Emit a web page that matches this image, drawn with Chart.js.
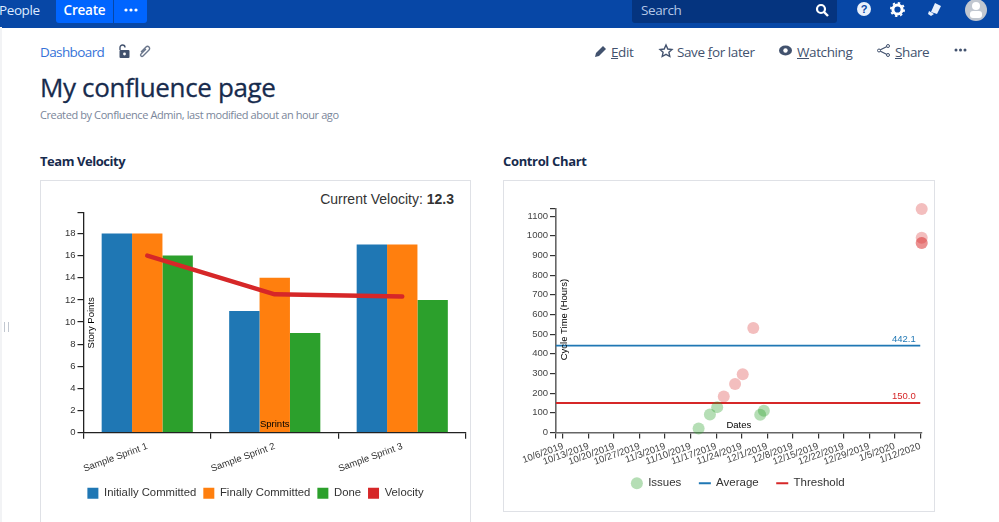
<!DOCTYPE html>
<html><head><meta charset="utf-8">
<script src="https://cdn.jsdelivr.net/npm/chart.js@4"></script>
<style>
html,body{margin:0;padding:0;background:#fff;overflow:hidden}
body{width:999px;height:522px;position:relative;font-family:"Open Sans","Noto Sans",sans-serif;color:#172b4d}
.a{position:absolute;white-space:nowrap}
.nav{left:0;top:0;width:999px;height:27.5px;background:#0747a6}
.rail{left:0;top:27px;width:2px;height:495px;background:#f2f3f5}
.act{top:42px;font-size:13.5px;letter-spacing:-0.4px;line-height:20px;color:#42526e}
.panel{border:1.5px solid #dfe1e6;box-sizing:border-box}
svg{position:absolute;overflow:visible}
canvas{position:absolute}
</style></head><body>
<div class="a nav"></div>
<div class="a rail"></div>
<div class="a" style="left:-1px;top:0;height:20px;line-height:20px;font-size:13.5px;letter-spacing:-0.4px;color:#deebff">People</div>
<div class="a" style="left:56px;top:0;width:57px;height:23px;line-height:20px;background:#0065ff;border-radius:0 0 0 3px;color:#fff;font-size:13.5px;letter-spacing:-0.2px;font-weight:600;text-align:center">Create</div>
<div class="a" style="left:114px;top:0;width:33px;height:23px;background:#0065ff;border-radius:0 0 3px 0"></div>
<svg style="left:124px;top:8px" width="14" height="4"><circle cx="2" cy="2" r="1.6" fill="#fff"/><circle cx="7" cy="2" r="1.6" fill="#fff"/><circle cx="12" cy="2" r="1.6" fill="#fff"/></svg>
<div class="a" style="left:632px;top:0;width:205px;height:23px;background:#05347f;border-radius:0 0 3px 3px"></div>
<div class="a" style="left:641px;top:0;line-height:20px;font-size:13.5px;letter-spacing:-0.4px;color:#b3c6e6">Search</div>
<svg style="left:815px;top:3px" width="14" height="14"><circle cx="6" cy="6" r="4" fill="none" stroke="#fff" stroke-width="2.2"/><path d="M9 9l4 4" stroke="#fff" stroke-width="2.4"/></svg>
<svg style="left:857px;top:2px" width="14" height="14"><circle cx="7" cy="7" r="7" fill="#e9f0fb"/><text x="7" y="11" text-anchor="middle" font-size="11" font-weight="700" font-family="Liberation Sans" fill="#0747a6">?</text></svg>
<svg style="left:890px;top:2px" width="15" height="15"><circle cx="7.5" cy="7.5" r="4.6" fill="none" stroke="#fff" stroke-width="3"/><circle cx="7.5" cy="7.5" r="6.6" fill="none" stroke="#fff" stroke-width="1.8" stroke-dasharray="2.4 2.8"/></svg>
<svg style="left:926px;top:2px" width="16" height="15"><path d="M9 1l6 3-4 8-6-2z M3 9l5 3-3 2-3-2z" fill="#e9f0fb"/></svg>
<svg style="left:965px;top:-1px" width="22" height="22"><circle cx="11" cy="11" r="11" fill="#c1c7d0"/><circle cx="11" cy="7" r="4" fill="#fff"/><rect x="5" y="12" width="12" height="7" rx="3" fill="#fff"/></svg>

<div class="a" style="left:40px;top:42px;line-height:20px;font-size:13.5px;letter-spacing:-0.6px;color:#3572d8">Dashboard</div>
<svg style="left:117px;top:44px" width="14" height="14"><path d="M3 6V3.5a2.5 2.5 0 0 1 5 0" fill="none" stroke="#42526e" stroke-width="1.4"/><rect x="2.5" y="6" width="10" height="8" rx="1" fill="#42526e"/><circle cx="7.5" cy="10" r="1.4" fill="#fff"/></svg>
<svg style="left:139px;top:45px" width="12" height="13"><path d="M2 7l5-5a2 2 0 0 1 3 3l-6 6a1.2 1.2 0 0 1-2-2l5-5" fill="none" stroke="#6b778c" stroke-width="1.4"/></svg>
<div class="a" style="left:40px;top:69px;font-size:26px;letter-spacing:-0.35px;line-height:36px;font-weight:500;color:#172b4d;-webkit-text-stroke:0.3px #172b4d">My confluence page</div>
<div class="a" style="left:40px;top:107px;font-size:11px;letter-spacing:-0.4px;line-height:16px;color:#7a869a">Created by Confluence Admin, last modified about an hour ago</div>

<svg style="left:594px;top:44px" width="14" height="14"><path d="M1 13l1-4 7-7 3 3-7 7z" fill="#42526e"/></svg>
<div class="a act" style="left:611px"><u>E</u>dit</div>
<svg style="left:659px;top:44px" width="14" height="14"><path d="M7 1l1.8 4 4.2.5-3.1 2.8.9 4.2L7 10.400l-3.800 2.100.9-4.200L1 5.500 5.200 5z" fill="none" stroke="#42526e" stroke-width="1.400"/></svg>
<div class="a act" style="left:677px">Save <u>f</u>or later</div>
<svg style="left:779px;top:45px" width="13" height="11"><ellipse cx="6.500" cy="5.500" rx="6.500" ry="5" fill="#42526e"/><circle cx="6.500" cy="5.500" r="2.200" fill="#fff"/></svg>
<div class="a act" style="left:797px"><u>W</u>atching</div>
<svg style="left:877px;top:44px" width="13" height="13"><path d="M11 2L2 6.500 11 11" fill="none" stroke="#42526e" stroke-width="1.200"/><circle cx="11" cy="2" r="1.500" fill="#fff" stroke="#42526e"/><circle cx="2" cy="6.500" r="1.500" fill="#fff" stroke="#42526e"/><circle cx="11" cy="11" r="1.500" fill="#fff" stroke="#42526e"/></svg>
<div class="a act" style="left:895px"><u>S</u>hare</div>
<svg style="left:954px;top:48px" width="13" height="4"><circle cx="2" cy="2" r="1.500" fill="#42526e"/><circle cx="6.500" cy="2" r="1.500" fill="#42526e"/><circle cx="11" cy="2" r="1.500" fill="#42526e"/></svg>

<div class="a" style="left:40px;top:152px;font-size:13px;letter-spacing:-0.45px;line-height:18px;font-weight:700">Team Velocity</div>
<div class="a" style="left:503px;top:152px;font-size:13px;letter-spacing:-0.35px;line-height:18px;font-weight:700">Control Chart</div>
<div class="a panel" style="left:40px;top:180px;width:431px;height:350px"></div>
<div class="a panel" style="left:503px;top:180px;width:432px;height:332px"></div>
<div class="a" style="right:545px;top:190px;font-family:'Liberation Sans';font-size:14px;line-height:18px;color:#333">Current Velocity: <b>12.3</b></div>
<div style="position:absolute;left:4px;top:322px;width:1px;height:10px;border-left:1px solid #c1c7d0;border-right:1px solid #c1c7d0;padding-left:2px"></div>

<canvas id="velocity" style="left:40px;top:180px;width:431px;height:342px" width="431" height="342"></canvas>
<canvas id="control" style="left:503px;top:180px;width:470px;height:342px" width="470" height="342"></canvas>

<script>
const sprints = ["Sample Sprint 1", "Sample Sprint 2", "Sample Sprint 3"];
const initiallyCommitted = [18, 11, 17];
const finallyCommitted = [18, 14, 17];
const done = [16, 9, 12];
const velocity = [16, 12.5, 12.3];
const velocityTicks = [0, 2, 4, 6, 8, 10, 12, 14, 16, 18];
const velocityMax = 19.85;

const weekOffsets = [0, 7, 14, 21, 28, 35, 42, 49, 56, 63, 70, 77, 84, 91, 98];
const weekLabels = ["10/6/2019","10/13/2019","10/20/2019","10/27/2019","11/3/2019","11/10/2019","11/17/2019","11/24/2019","12/1/2019","12/8/2019","12/15/2019","12/22/2019","12/29/2019","1/5/2020","1/12/2020"];
const cycleTicks = [0,100,200,300,400,500,600,700,800,900,1000,1100];
const cycleMax = 1138;
const dayMin = -1.92;
const dayMax = 98.4;
const issueDays = [37.2, 40.3, 42.3, 44.1, 47.2, 49.3, 52.2, 54.1, 55.1, 98.4, 98.4, 98.4, 98.4];
const issueHours = [20, 91, 129, 183, 247, 296, 531, 90, 110, 1137, 990, 963, 963];
const averageHours = 442.1;
const thresholdHours = 150;

const FONT = "'Liberation Sans', Arial, sans-serif";
Chart.defaults.font.family = FONT;
Chart.defaults.animation = false;
Chart.defaults.responsive = false;

const notes = {
  id: 'notes',
  afterDraw(chart, args, opts) {
    const c = chart.ctx, ys = chart.scales.y, area = chart.chartArea;
    c.save();
    c.textBaseline = 'middle';
    for (const n of opts.items || []) {
      c.save();
      c.fillStyle = n.color || '#000';
      c.font = "9.5px " + FONT;
      c.textAlign = n.align || 'center';
      const x = area.left + area.width * n.fx + (n.dx || 0);
      const y = n.value !== undefined ? ys.getPixelForValue(n.value) + n.dy : area.top + area.height * n.fy + (n.dy || 0);
      c.translate(x, y);
      if (n.rot) c.rotate(-Math.PI / 2);
      c.fillText(n.text, 0, 0);
      c.restore();
    }
    c.restore();
  }
};

function fixX(h, rightPad) {
  return s => {
    s.height = h; s.paddingLeft = 0; s.paddingRight = rightPad; s.paddingTop = 0; s.paddingBottom = 0;
    s._computeLabelArea = () => undefined;
  };
}
function fixY(w) {
  return s => { s.width = w; s.paddingTop = 0; s.paddingBottom = 0; s.paddingLeft = 0; s.paddingRight = 0; };
}
const solidLegend = chart => Chart.defaults.plugins.legend.labels.generateLabels(chart).map(l => ({...l, lineWidth: 0, fillStyle: chart.data.datasets[l.datasetIndex].backgroundColor}));

new Chart(document.getElementById('velocity'), {
  data: {
    labels: sprints,
    datasets: [
      {type:'bar', label:'Initially Committed', data:initiallyCommitted, backgroundColor:'#1f77b4', order:2},
      {type:'bar', label:'Finally Committed', data:finallyCommitted, backgroundColor:'#ff7f0e', order:2},
      {type:'bar', label:'Done', data:done, backgroundColor:'#2ca02c', order:2},
      {type:'line', label:'Velocity', data:velocity, borderColor:'#d62728', backgroundColor:'#d62728', borderWidth:4.5, borderCapStyle:'round', borderJoinStyle:'round', pointRadius:0, tension:0, order:1}
    ]
  },
  options: {
    layout:{padding:{top:33,left:0,right:0,bottom:13}},
    datasets:{bar:{categoryPercentage:0.715, barPercentage:1}},
    scales:{
      x:{
        offset:true,
        afterFit:fixX(48,5),
        grid:{offset:true, drawOnChartArea:false, tickLength:6, color:'#222', lineWidth:1.2},
        border:{color:'#222', width:1.3},
        ticks:{minRotation:20, maxRotation:20, autoSkip:false, font:{size:9.5}, color:'#333', padding:2}
      },
      y:{
        min:0, max:velocityMax,
        afterFit:fixY(43.5),
        afterBuildTicks:s => { s.ticks = velocityTicks.concat([velocityMax]).map(v => ({value:v})); },
        grid:{drawOnChartArea:false, tickLength:6, color:'#222', lineWidth:1.2},
        border:{color:'#222', width:1.3},
        ticks:{autoSkip:false, font:{size:9.5}, color:'#333', padding:2, callback:v => velocityTicks.includes(v) ? String(v) : ''}
      }
    },
    plugins:{
      tooltip:{enabled:false},
      legend:{position:'bottom', labels:{boxWidth:11, boxHeight:11, padding:7, color:'#333', font:{size:11.3}, generateLabels:solidLegend, sort:(a,b)=>a.datasetIndex-b.datasetIndex}},
      notes:{items:[
        {text:'Sprints', fx:0.5, fy:1, dy:-8},
        {text:'Story Points', fx:0, dx:8, fy:0.5, rot:true}
      ]}
    }
  },
  plugins:[notes]
});

const issueColor = ctx => ctx.raw && ctx.raw.y > thresholdHours ? 'rgba(214,39,40,0.3)' : 'rgba(44,160,44,0.35)';
new Chart(document.getElementById('control'), {
  type:'scatter',
  data:{
    datasets:[
      {label:'Issues', data:issueDays.map((d,i)=>({x:d,y:issueHours[i]})), backgroundColor:issueColor, borderWidth:0, pointRadius:6, pointStyle:'circle', clip:false},
      {type:'line', label:'Average', data:[{x:dayMin,y:averageHours},{x:98,y:averageHours}], borderColor:'#1f77b4', backgroundColor:'#1f77b4', borderWidth:1.8, pointRadius:0, pointStyle:'line'},
      {type:'line', label:'Threshold', data:[{x:dayMin,y:thresholdHours},{x:98,y:thresholdHours}], borderColor:'#d62728', backgroundColor:'#d62728', borderWidth:1.8, pointRadius:0, pointStyle:'line'}
    ]
  },
  options:{
    layout:{padding:{top:28.7,left:0,right:0,bottom:23}},
    scales:{
      x:{
        type:'linear', min:dayMin, max:dayMax,
        afterFit:fixX(27,51.3),
        afterBuildTicks:s => { s.ticks = [dayMin].concat(weekOffsets).map(v => ({value:v})); },
        grid:{drawOnChartArea:false, tickLength:6, color:'#333', lineWidth:1.2},
        border:{color:'#666', width:1.6},
        ticks:{minRotation:20, maxRotation:20, autoSkip:false, font:{size:9.6}, color:'#444', padding:2,
          callback:v => { const i = weekOffsets.indexOf(v); return i < 0 ? '' : weekLabels[i]; }}
      },
      y:{
        min:0, max:cycleMax,
        afterFit:fixY(53),
        afterBuildTicks:s => { s.ticks = cycleTicks.concat([cycleMax]).map(v => ({value:v})); },
        grid:{drawOnChartArea:false, tickLength:6, color:'#333', lineWidth:1.2},
        border:{color:'#666', width:1.6},
        ticks:{autoSkip:false, font:{size:9.5}, color:'#444', padding:2, callback:v => cycleTicks.includes(v) ? String(v) : ''}
      }
    },
    plugins:{
      tooltip:{enabled:false},
      legend:{position:'bottom', labels:{usePointStyle:true, boxWidth:11, boxHeight:8.5, padding:18, color:'#333', font:{size:11.5}}},
      notes:{items:[
        {text:'Dates', fx:0.5, fy:1, dy:-7.5},
        {text:'Cycle Time (Hours)', fx:0, dx:8, fy:0.5, dy:-1, rot:true},
        {text:averageHours.toFixed(1), fx:1, dx:-6, value:averageHours, dy:-6.5, color:'#1f77b4', align:'right'},
        {text:thresholdHours.toFixed(1), fx:1, dx:-6, value:thresholdHours, dy:-6.5, color:'#d62728', align:'right'}
      ]}
    }
  },
  plugins:[notes]
});
</script>
</body></html>
